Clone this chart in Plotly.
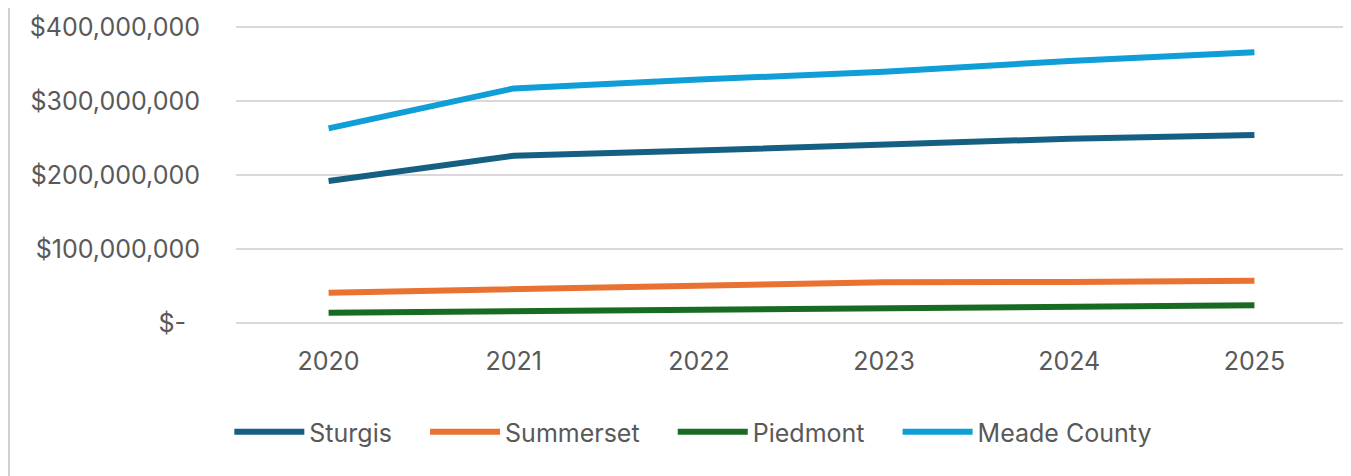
import plotly.graph_objects as go

# Years on the category axis
years = ['2020', '2021', '2022', '2023', '2024', '2025']

# Values per community
sturgis = [192e6, 226e6, 233e6, 241e6, 249e6, 254e6]
summerset = [41e6, 46e6, 51e6, 55e6, 55.5e6, 57e6]
piedmont = [14e6, 16e6, 18e6, 20e6, 22e6, 24e6]
meade_county = [263e6, 317e6, 329e6, 339.5e6, 354e6, 366e6]

# Y axis ticks
y_ticks = [0, 100e6, 200e6, 300e6, 400e6]
y_tick_labels = ['$-\u00a0\u00a0', '$100,000,000', '$200,000,000', '$300,000,000', '$400,000,000']

# legend entries get some trailing space so they spread out like the original
gap = '\u00a0' * 4
series = [
    ('Sturgis', sturgis, '#156082'),
    ('Summerset', summerset, '#E97132'),
    ('Piedmont', piedmont, '#196B24'),
    ('Meade County', meade_county, '#0F9ED5'),
]

fig = go.Figure()

for i, (name, values, color) in enumerate(series):
    label = name if i == len(series) - 1 else name + gap
    fig.add_trace(go.Scatter(
        x=years,
        y=values,
        name=label,
        mode='lines',
        line=dict(color=color, width=6),
        hovertemplate=name + ': %{y:$,.0f}<extra></extra>',
    ))

text_color = '#595959'
font_family = 'Inter, DejaVu Sans, sans-serif'

# small padding so the 0 and 400M gridlines are not dropped at the edges
pad = 400e6 * 2 / 299.5

# the page has an 8px body margin, so the figure is a bit smaller than the window
fig.update_layout(
    width=1343,
    height=468,
    margin=dict(l=228, r=4, t=13.5, b=151),
    paper_bgcolor='white',
    plot_bgcolor='white',
    font=dict(family=font_family, size=25, color=text_color),
    showlegend=True,
    legend=dict(
        orientation='h',
        x=-0.006,
        xanchor='left',
        y=-0.28,
        yanchor='top',
        itemwidth=70,
        font=dict(family=font_family, size=25, color=text_color),
        bgcolor='rgba(0,0,0,0)',
    ),
    # thin gray border on the far left of the image
    shapes=[dict(
        type='line', xref='paper', yref='paper',
        x0=-0.2043, x1=-0.2043, y0=-0.6, y1=1.1,
        line=dict(color='#D0D0D0', width=2),
    )],
)

fig.update_xaxes(
    type='category',
    range=[-0.5, 5.5],
    showgrid=False,
    showline=False,
    zeroline=False,
    ticks='',
    ticklabelstandoff=19,
    tickfont=dict(size=25, color=text_color),
)

fig.update_yaxes(
    range=[-pad, 400e6 + pad],
    tickvals=y_ticks,
    ticktext=y_tick_labels,
    showgrid=True,
    gridcolor='#D9D9D9',
    gridwidth=2,
    zeroline=False,
    showline=False,
    ticks='',
    ticklabelstandoff=35,
    tickfont=dict(size=25, color=text_color),
)

fig.write_html('out.html')
